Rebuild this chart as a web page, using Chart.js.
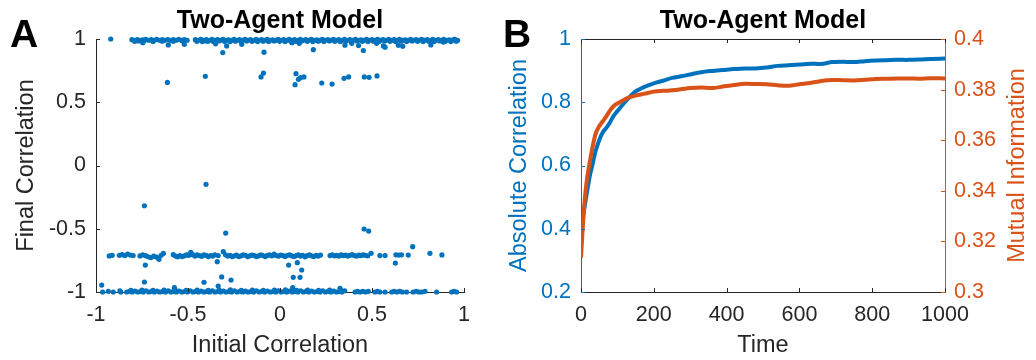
<!DOCTYPE html>
<html>
<head>
<meta charset="utf-8">
<script src="https://cdn.jsdelivr.net/npm/chart.js@4.4.1/dist/chart.umd.min.js"></script>
<style>
  html, body { margin: 0; padding: 0; background: #fff; }
  #wrap { position: relative; width: 1036px; height: 360px; }
  #chartA { position: absolute; left: 0; top: 0; }
  #chartB { position: absolute; left: 490px; top: 0; }
</style>
</head>
<body>
<div id="wrap">
  <canvas id="chartA" width="490" height="360"></canvas>
  <canvas id="chartB" width="546" height="360"></canvas>
</div>
<script>
  'use strict';

  // ---- panel A: initial vs final correlation, [initial, final] pairs
  var topBand = [
    [-0.92,1.0],
    [-0.805,0.995],[-0.79,0.99],[-0.775,0.995],[-0.76,0.99],[-0.745,0.993],[-0.73,0.998],[-0.715,0.99],[-0.70,0.995],
    [-0.685,0.99],[-0.67,0.997],[-0.655,0.99],[-0.64,0.995],[-0.625,0.99],[-0.61,0.996],[-0.595,0.99],[-0.58,0.995],
    [-0.565,0.99],[-0.55,0.997],[-0.535,0.99],[-0.52,0.995],[-0.505,0.99],
    [-0.46,0.995],[-0.445,0.99],[-0.43,0.998],[-0.415,0.99],[-0.40,0.995],[-0.385,0.988],[-0.37,0.997],[-0.355,0.99],
    [-0.34,0.995],[-0.325,0.99],[-0.31,0.998],[-0.295,0.99],[-0.28,0.994],[-0.265,0.989],[-0.25,0.997],[-0.235,0.99],
    [-0.22,0.995],[-0.205,0.99],[-0.19,0.998],[-0.175,0.99],[-0.16,0.995],[-0.145,0.988],[-0.13,0.997],[-0.115,0.99],
    [-0.10,0.995],[-0.085,0.99],[-0.07,0.998],[-0.055,0.99],[-0.04,0.994],[-0.025,0.989],[-0.01,0.997],[0.005,0.99],
    [0.02,0.995],[0.035,0.99],[0.05,0.998],[0.065,0.99],[0.08,0.995],[0.095,0.988],[0.11,0.997],[0.125,0.99],
    [0.14,0.995],[0.155,0.99],[0.17,0.998],[0.185,0.99],[0.20,0.994],[0.215,0.989],[0.23,0.997],[0.245,0.99],
    [0.26,0.995],[0.275,0.99],[0.29,0.998],[0.305,0.99],[0.32,0.995],[0.335,0.988],[0.35,0.997],[0.365,0.99],
    [0.38,0.995],[0.395,0.99],[0.41,0.998],[0.425,0.99],[0.44,0.994],[0.455,0.989],[0.47,0.997],[0.485,0.99],
    [0.50,0.995],[0.515,0.99],[0.53,0.998],[0.545,0.99],[0.56,0.995],[0.575,0.988],[0.59,0.997],[0.605,0.99],
    [0.62,0.995],[0.635,0.99],[0.65,0.998],[0.665,0.99],[0.68,0.994],[0.695,0.989],[0.71,0.997],[0.725,0.99],
    [0.74,0.995],[0.755,0.99],[0.77,0.998],[0.785,0.99],[0.80,0.995],[0.815,0.988],[0.83,0.997],[0.845,0.99],
    [0.86,0.995],[0.875,0.99],[0.89,0.998],[0.905,0.99],[0.92,0.994],[0.935,0.989],[0.95,0.997],[0.965,0.99]
  ];
  var topBandLower = [
    [-0.79,0.982],[-0.74,0.984],[-0.69,0.981],[-0.64,0.983],[-0.58,0.982],[-0.53,0.984],
    [-0.452,0.982],[-0.422,0.98],[-0.392,0.983],[-0.362,0.981],[-0.332,0.984],[-0.302,0.982],
    [-0.272,0.98],[-0.242,0.983],[-0.212,0.981],[-0.182,0.984],[-0.152,0.982],[-0.122,0.98],
    [-0.092,0.983],[-0.062,0.981],[-0.032,0.984],[-0.002,0.982],[0.028,0.98],[0.058,0.983],
    [0.088,0.981],[0.118,0.984],[0.148,0.982],[0.178,0.98],[0.208,0.983],[0.238,0.981],
    [0.268,0.984],[0.298,0.982],[0.328,0.98],[0.358,0.983],[0.388,0.981],[0.418,0.984],
    [0.448,0.982],[0.478,0.98],[0.508,0.983],[0.538,0.981],[0.568,0.984],[0.598,0.982],
    [0.628,0.98],[0.658,0.983],[0.688,0.981],[0.718,0.984],[0.748,0.982],[0.778,0.98],
    [0.808,0.983],[0.838,0.981],[0.868,0.984],[0.898,0.982],[0.928,0.98],[0.958,0.983]
  ];
  var topStray = [
    [-0.77,0.984],[-0.746,0.971],[-0.607,0.953],[-0.52,0.958],[-0.40,0.984],[-0.35,0.962],[-0.311,0.893],
    [-0.29,0.945],[-0.208,0.958],[-0.087,0.896],[0.065,0.971],[0.105,0.966],[0.181,0.916],[0.353,0.951],
    [0.39,0.966],[0.427,0.948],[0.453,0.909],[0.525,0.966],[0.562,0.945],[0.571,0.935],[0.643,0.95],
    [0.667,0.943],[0.82,0.953],[0.888,0.976],[0.946,0.998],[0.96,0.99]
  ];
  var upperMid = [
    [-0.612,0.657],[-0.406,0.705],[-0.09,0.731],[-0.103,0.70],[0.087,0.726],[0.082,0.639],[0.10,0.681],
    [0.112,0.694],[0.13,0.70],[0.227,0.652],[0.283,0.644],[0.348,0.689],[0.373,0.70],[0.458,0.70],
    [0.484,0.697],[0.527,0.708]
  ];
  var middle = [
    [-0.402,-0.149],[-0.737,-0.318],[-0.295,-0.534],[0.457,-0.502],[0.482,-0.518]
  ];
  var lowerBand = [
    [-0.928,-0.715],[-0.912,-0.71],
    [-0.873,-0.71],[-0.858,-0.705],[-0.843,-0.712],[-0.828,-0.70],[-0.813,-0.708],[-0.798,-0.712],
    [-0.761,-0.715],[-0.746,-0.706],[-0.731,-0.712],[-0.716,-0.722],[-0.701,-0.728],[-0.686,-0.716],
    [-0.671,-0.724],[-0.658,-0.742],[-0.646,-0.71],[-0.634,-0.695],
    [-0.58,-0.705],[-0.568,-0.716],[-0.556,-0.722],[-0.544,-0.712],[-0.532,-0.72],[-0.52,-0.714],
    [-0.508,-0.706],[-0.496,-0.71],[-0.485,-0.686],[-0.474,-0.705],[-0.462,-0.716],[-0.45,-0.706],
    [-0.438,-0.712],[-0.426,-0.718],[-0.414,-0.706],[-0.402,-0.71],[-0.39,-0.72],[-0.378,-0.712],
    [-0.366,-0.716],[-0.354,-0.706],[-0.336,-0.712],
    [-0.308,-0.681],[-0.296,-0.706],[-0.284,-0.716],[-0.272,-0.71],[-0.26,-0.72],[-0.248,-0.714],
    [-0.236,-0.708],[-0.224,-0.72],[-0.212,-0.714],[-0.2,-0.706],[-0.188,-0.71],[-0.176,-0.72],
    [-0.164,-0.714],[-0.152,-0.708],[-0.14,-0.712],[-0.128,-0.72],[-0.116,-0.714],[-0.104,-0.706],
    [-0.092,-0.712],[-0.08,-0.72],[-0.068,-0.71],[-0.056,-0.706],[-0.044,-0.714],[-0.032,-0.70],
    [-0.02,-0.712],[-0.008,-0.716],[0.004,-0.708],[0.016,-0.712],[0.028,-0.72],[0.04,-0.71],
    [0.052,-0.706],[0.064,-0.714],[0.076,-0.72],[0.088,-0.712],[0.1,-0.706],[0.112,-0.716],
    [0.124,-0.71],[0.136,-0.722],[0.148,-0.712],[0.16,-0.706],[0.172,-0.714],[0.184,-0.72],
    [0.196,-0.71],[0.208,-0.716],[0.22,-0.708],
    [0.272,-0.712],[0.284,-0.706],[0.296,-0.714],[0.308,-0.71],[0.32,-0.716],[0.332,-0.706],
    [0.344,-0.712],[0.356,-0.708],[0.368,-0.716],[0.38,-0.71],[0.392,-0.704],[0.404,-0.712],
    [0.416,-0.716],[0.428,-0.708],[0.44,-0.712],[0.452,-0.706],[0.464,-0.71],[0.476,-0.714],
    [0.495,-0.694],[0.543,-0.712],[0.571,-0.712],[0.63,-0.706],[0.645,-0.708],[0.66,-0.706],
    [0.697,-0.708],[0.721,-0.642],[0.815,-0.694],[0.88,-0.707]
  ];
  var lowerStray = [
    [0.047,-0.787],[0.094,-0.768],[0.118,-0.826],[0.072,-0.884],[0.109,-0.884],[0.627,-0.771],
    [-0.732,-0.787],[-0.341,-0.76],[-0.737,-0.921],[-0.413,-0.923],[-0.317,-0.881],[-0.266,-0.905],
    [-0.336,-0.953],[-0.969,-0.945],[-0.574,-0.966],[0.069,-0.966],[0.326,-0.971]
  ];
  var bottomBand = [
    [-0.964,-1],[-0.933,-0.995],[-0.906,-1],[-0.87,-0.99],[-0.865,-1],
    [-0.833,-1],[-0.818,-0.995],[-0.803,-1],[-0.788,-0.992],[-0.773,-1],[-0.758,-0.996],[-0.743,-1],
    [-0.728,-0.99],[-0.713,-1],[-0.698,-0.995],[-0.683,-1],[-0.668,-0.993],[-0.653,-1],[-0.638,-0.996],
    [-0.623,-1],[-0.608,-0.99],[-0.593,-1],[-0.578,-0.995],[-0.563,-1],[-0.548,-0.992],[-0.533,-1],
    [-0.518,-0.996],[-0.503,-1],[-0.488,-0.99],[-0.473,-1],[-0.458,-0.995],[-0.443,-1],[-0.428,-0.993],
    [-0.413,-1],[-0.398,-0.996],[-0.383,-1],[-0.368,-0.99],[-0.353,-1],[-0.338,-0.995],[-0.323,-1],
    [-0.308,-0.992],[-0.293,-1],[-0.278,-0.996],[-0.263,-1],[-0.248,-0.99],[-0.233,-1],[-0.218,-0.995],
    [-0.203,-1],[-0.188,-0.993],[-0.173,-1],[-0.158,-0.996],[-0.143,-1],[-0.128,-0.99],[-0.113,-1],
    [-0.098,-0.995],[-0.083,-1],[-0.068,-0.992],[-0.053,-1],[-0.038,-0.996],[-0.023,-1],[-0.008,-0.99],
    [0.007,-1],[0.022,-0.995],[0.037,-1],[0.052,-0.993],[0.067,-1],[0.082,-0.996],[0.097,-1],
    [0.112,-0.99],[0.127,-1],[0.142,-0.995],[0.157,-1],[0.172,-0.992],[0.187,-1],[0.202,-0.996],
    [0.217,-1],[0.232,-0.99],[0.247,-1],[0.262,-0.995],[0.277,-1],[0.292,-0.993],[0.307,-1],
    [0.322,-0.996],[0.337,-1],[0.352,-0.99],
    [0.408,-1],[0.421,-0.995],[0.435,-1],[0.45,-0.995],[0.465,-1],[0.48,-0.995],[0.516,-1],
    [0.53,-0.995],[0.543,-1],[0.571,-1],[0.607,-1],[0.62,-0.995],[0.635,-1],[0.65,-0.995],
    [0.665,-1],[0.688,-1],[0.723,-1],[0.74,-0.995],[0.755,-1],[0.77,-1],[0.788,-0.995],
    [0.851,-1],[0.933,-1],[0.946,-0.995],[0.96,-1]
  ];
  var bottomBandUpper = [
    [-0.81,-0.986],[-0.75,-0.984],[-0.69,-0.987],[-0.63,-0.985],[-0.57,-0.983],[-0.51,-0.986],
    [-0.45,-0.984],[-0.39,-0.987],[-0.33,-0.985],[-0.27,-0.983],[-0.21,-0.986],[-0.15,-0.984],
    [-0.09,-0.987],[-0.03,-0.985],[0.03,-0.983],[0.09,-0.986],[0.15,-0.984],[0.21,-0.987],
    [0.27,-0.985],[0.33,-0.983]
  ];
  var corrTicks = [-1, -0.5, 0, 0.5, 1];

  // ---- panel B: averages over time
  var timeSteps = [0, 5, 10, 15, 20, 25, 30, 40, 50, 60, 70, 80, 90, 100, 115, 130, 150, 175, 200, 225, 250,
    275, 300, 330, 360, 390, 420, 450, 480, 510, 540, 570, 600, 630, 660, 690, 720, 750, 780, 810, 840,
    870, 900, 930, 960, 1000];
  var absCorr = [0.372, 0.43, 0.47, 0.505, 0.54, 0.572, 0.595, 0.645, 0.68, 0.705, 0.72, 0.737, 0.758, 0.772,
    0.793, 0.812, 0.834, 0.849, 0.86, 0.868, 0.877, 0.882, 0.888, 0.895, 0.899, 0.902, 0.905, 0.907, 0.907,
    0.910, 0.915, 0.917, 0.919, 0.922, 0.921, 0.927, 0.928, 0.927, 0.930, 0.932, 0.933, 0.934, 0.934,
    0.935, 0.937, 0.938];
  var mutualInfo = [0.3135, 0.326, 0.336, 0.343, 0.348, 0.352, 0.356, 0.3625, 0.3655, 0.3675, 0.3695, 0.3718,
    0.3735, 0.3745, 0.3757, 0.3768, 0.3776, 0.3784, 0.3792, 0.3795, 0.3797, 0.3801, 0.3806, 0.3808,
    0.3806, 0.3812, 0.3818, 0.3823, 0.3822, 0.3821, 0.3817, 0.3815, 0.3821, 0.3826, 0.3834, 0.3838,
    0.3837, 0.3836, 0.3839, 0.3842, 0.3843, 0.3844, 0.3844, 0.3843, 0.3845, 0.3844];
  var timeTicks = [0, 200, 400, 600, 800, 1000];
  var absTicks = [0.2, 0.4, 0.6, 0.8, 1];
  var miTicks = [0.3, 0.32, 0.34, 0.36, 0.38, 0.4];

  var FONT = '"Liberation Sans", Arial, Helvetica, sans-serif';
  var AXIS = '#262626';
  var BLUE = '#0072BD';
  var ORANGE = '#D95319';

  function toPoints(pairs) {
    return pairs.map(function(p) { return {x: p[0], y: p[1]}; });
  }
  function fixedTicks(values) {
    return function(scale) { scale.ticks = values.map(function(v) { return {value: v}; }); };
  }

  // MATLAB style tick marks pointing into the plot, plus an optional top box line
  var inwardTicks = {
    id: 'inwardTicks',
    afterDraw: function(chart, args, opts) {
      var ctx = chart.ctx, a = chart.chartArea, len = opts.len || 4;
      ctx.save();
      ctx.lineWidth = 1;
      if (opts.box) {
        ctx.strokeStyle = AXIS;
        ctx.beginPath();
        ctx.moveTo(a.left, a.top + 0.5);
        ctx.lineTo(a.right, a.top + 0.5);
        ctx.stroke();
      }
      Object.keys(chart.scales).forEach(function(id) {
        var s = chart.scales[id], cfg = opts[id];
        if (!cfg) return;
        ctx.strokeStyle = cfg.color;
        ctx.beginPath();
        s.ticks.forEach(function(t) {
          var p = Math.round(s.getPixelForValue(t.value)) + 0.5;
          if (s.isHorizontal()) {
            ctx.moveTo(p, a.bottom); ctx.lineTo(p, a.bottom - len);
            if (cfg.mirror) { ctx.moveTo(p, a.top); ctx.lineTo(p, a.top + len); }
          } else if (s.position === 'left') {
            ctx.moveTo(a.left, p); ctx.lineTo(a.left + len, p);
          } else {
            ctx.moveTo(a.right, p); ctx.lineTo(a.right - len, p);
          }
        });
        ctx.stroke();
      });
      ctx.restore();
    }
  };

  // panel letter and the right-hand axis label (MATLAB keeps it reading bottom to top)
  var extraText = {
    id: 'extraText',
    afterDraw: function(chart, args, opts) {
      var ctx = chart.ctx;
      ctx.save();
      ctx.fillStyle = '#000';
      ctx.font = 'bold 39px ' + FONT;
      ctx.textAlign = 'left';
      ctx.textBaseline = 'alphabetic';
      ctx.fillText(opts.letter, opts.letterX, 47);
      if (opts.sideTitle) {
        var s = chart.scales[opts.sideTitle.scale], a = chart.chartArea;
        ctx.translate(s.right - opts.sideTitle.offset, (a.top + a.bottom) / 2);
        ctx.rotate(-Math.PI / 2);
        ctx.fillStyle = opts.sideTitle.color;
        ctx.font = '23.5px ' + FONT;
        ctx.textAlign = 'center';
        ctx.textBaseline = 'middle';
        ctx.fillText(opts.sideTitle.text, 0, 0);
      }
      ctx.restore();
    }
  };

  var titleOpts = {
    display: true,
    text: 'Two-Agent Model',
    fullSize: false,
    color: '#000',
    font: {family: FONT, size: 25, weight: 'bold'},
    padding: {top: 6, bottom: 3}
  };

  new Chart(document.getElementById('chartA').getContext('2d'), {
    type: 'scatter',
    data: {
      datasets: [{
        data: toPoints(topBand.concat(topBandLower, topStray, upperMid, middle, lowerBand, lowerStray,
          bottomBand, bottomBandUpper)),
        backgroundColor: BLUE,
        borderWidth: 0,
        pointRadius: 2.6,
        clip: false
      }]
    },
    options: {
      responsive: false,
      animation: false,
      events: [],
      layout: {padding: {left: 0, right: 26, top: 0, bottom: 0}},
      plugins: {
        legend: {display: false},
        tooltip: {enabled: false},
        title: titleOpts,
        inwardTicks: {len: 4, x: {color: AXIS}, y: {color: AXIS}},
        extraText: {letter: 'A', letterX: 10}
      },
      scales: {
        x: {
          type: 'linear', min: -1, max: 1,
          afterBuildTicks: fixedTicks(corrTicks),
          afterFit: function(s) { s.height = 68; },
          grid: {display: false, drawTicks: false},
          border: {color: AXIS, width: 1},
          ticks: {color: AXIS, padding: 10, font: {family: FONT, size: 21.5},
            callback: function(v) { return String(v); }},
          title: {display: true, text: 'Initial Correlation', color: AXIS,
            font: {family: FONT, size: 23.5}, padding: {top: 0, bottom: 0}}
        },
        y: {
          type: 'linear', min: -1, max: 1,
          afterBuildTicks: fixedTicks(corrTicks),
          afterFit: function(s) { s.width = 96; },
          grid: {display: false, drawTicks: false},
          border: {color: AXIS, width: 1},
          ticks: {color: AXIS, padding: 10, font: {family: FONT, size: 21.5},
            callback: function(v) { return String(v); }},
          title: {display: true, text: 'Final Correlation', color: AXIS,
            font: {family: FONT, size: 23.5}, padding: {top: 12, bottom: 0}}
        }
      }
    },
    plugins: [inwardTicks, extraText]
  });

  new Chart(document.getElementById('chartB').getContext('2d'), {
    type: 'line',
    data: {
      labels: timeSteps,
      datasets: [{
        label: 'Absolute Correlation',
        data: timeSteps.map(function(t, i) { return {x: t, y: absCorr[i]}; }),
        yAxisID: 'y',
        borderColor: BLUE,
        borderWidth: 4,
        pointRadius: 0,
        tension: 0.3,
        order: 1
      }, {
        label: 'Mutual Information',
        data: timeSteps.map(function(t, i) { return {x: t, y: mutualInfo[i]}; }),
        yAxisID: 'y1',
        borderColor: ORANGE,
        borderWidth: 4,
        pointRadius: 0,
        tension: 0.3,
        order: 0
      }]
    },
    options: {
      responsive: false,
      animation: false,
      events: [],
      layout: {padding: 0},
      plugins: {
        legend: {display: false},
        tooltip: {enabled: false},
        title: titleOpts,
        inwardTicks: {len: 4, box: true, x: {color: AXIS, mirror: true}, y: {color: BLUE}, y1: {color: ORANGE}},
        extraText: {letter: 'B', letterX: 13,
          sideTitle: {scale: 'y1', text: 'Mutual Information', color: ORANGE, offset: 18}}
      },
      scales: {
        x: {
          type: 'linear', min: 0, max: 1000,
          afterBuildTicks: fixedTicks(timeTicks),
          afterFit: function(s) { s.height = 68; },
          grid: {display: false, drawTicks: false},
          border: {color: AXIS, width: 1},
          ticks: {color: AXIS, padding: 10, font: {family: FONT, size: 21.5},
            callback: function(v) { return String(v); }},
          title: {display: true, text: 'Time', color: AXIS,
            font: {family: FONT, size: 23.5}, padding: {top: 0, bottom: 0}}
        },
        y: {
          type: 'linear', position: 'left', min: 0.2, max: 1,
          afterBuildTicks: fixedTicks(absTicks),
          afterFit: function(s) { s.width = 91; },
          grid: {display: false, drawTicks: false},
          border: {color: BLUE, width: 1},
          ticks: {color: BLUE, padding: 10, font: {family: FONT, size: 21.5},
            callback: function(v) { return String(v); }},
          title: {display: true, text: 'Absolute Correlation', color: BLUE,
            font: {family: FONT, size: 23.5}, padding: {top: 15.4, bottom: 0}}
        },
        y1: {
          type: 'linear', position: 'right', min: 0.3, max: 0.4,
          afterBuildTicks: fixedTicks(miTicks),
          afterFit: function(s) { s.width = 91; },
          grid: {display: false, drawTicks: false},
          border: {color: ORANGE, width: 1},
          ticks: {color: ORANGE, padding: 9, font: {family: FONT, size: 21.5},
            callback: function(v) { return String(v); }}
        }
      }
    },
    plugins: [inwardTicks, extraText]
  });
</script>
</body>
</html>
